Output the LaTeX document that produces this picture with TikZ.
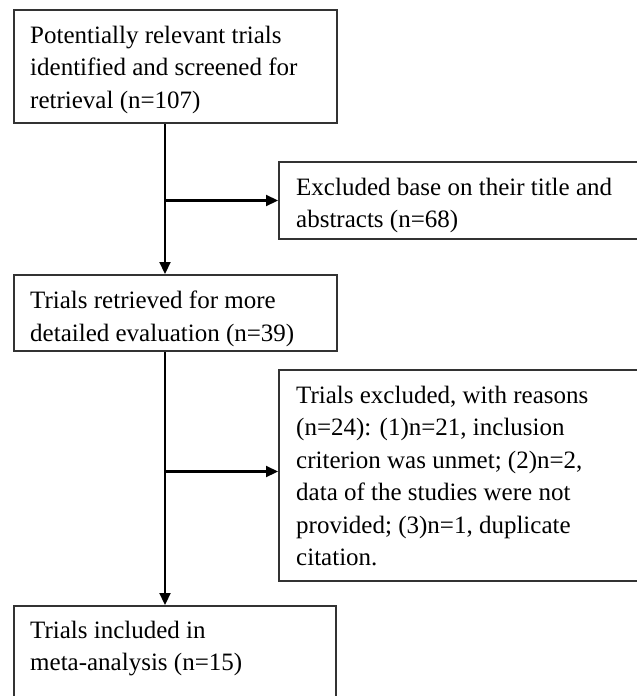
\documentclass[tikz,border=0pt]{standalone}
\usepackage{fontspec}
\setmainfont{Liberation Serif}
\usetikzlibrary{arrows.meta}
\begin{document}
\begin{tikzpicture}[x=1pt, y=-1pt, >={Triangle[length=12pt, width=11pt]},
    box/.style={draw=black!80, line width=2pt, inner sep=0pt, anchor=north west},
    txt/.style={inner sep=0pt, anchor=north west, align=left, font=\fontsize{25}{32.4}\selectfont},
    link/.style={->, line width=2.2pt}]

    % 画布
    \useasboundingbox[fill=white] (0,0) rectangle (637,696);

    % 方框（右侧与底部的框超出画面）
    \node[box, minimum width=323pt, minimum height=113pt] (ident) at (13,9) {};
    \node[box, minimum width=370pt, minimum height=77pt] (excla) at (278,161) {};
    \node[box, minimum width=323pt, minimum height=76pt] (retr) at (13,274) {};
    \node[box, minimum width=370pt, minimum height=211pt] (exclb) at (278,369) {};
    \node[box, minimum width=322pt, minimum height=100pt] (incl) at (13,605) {};

    % 文字
    \node[txt] (identtxt) at ([shift={(17pt,-17pt)}]ident.north west)
      {Potentially relevant trials\\identified and screened for\\retrieval (n=107)};
    \node[txt] (exclatxt) at ([shift={(18pt,-17pt)}]excla.north west)
      {Excluded base on their title and\\abstracts (n=68)};
    \node[txt] (retrtxt) at ([shift={(17pt,-17pt)}]retr.north west)
      {Trials retrieved for more\\detailed evaluation (n=39)};
    \node[txt] (exclbtxt) at ([shift={(18pt,-17pt)}]exclb.north west)
      {Trials excluded, with reasons\\(n=24): (1)n=21, inclusion\\criterion was unmet; (2)n=2,\\data of the studies were not\\provided; (3)n=1, duplicate\\citation.};
    \node[txt] (incltxt) at ([shift={(17pt,-16pt)}]incl.north west)
      {Trials included in\\meta-analysis (n=15)};

    % 主干与分支箭头
    \coordinate (trunk) at (165,0);
    \draw[link] (ident.south -| trunk) -- (retr.north -| trunk);
    \draw[link] (excla.west -| trunk) -- (excla.west);
    \draw[link] (retr.south -| trunk) -- (incl.north -| trunk);
    \draw[link] ([yshift=4pt]exclb.west -| trunk) -- ([yshift=4pt]exclb.west);

\end{tikzpicture}
\end{document}
